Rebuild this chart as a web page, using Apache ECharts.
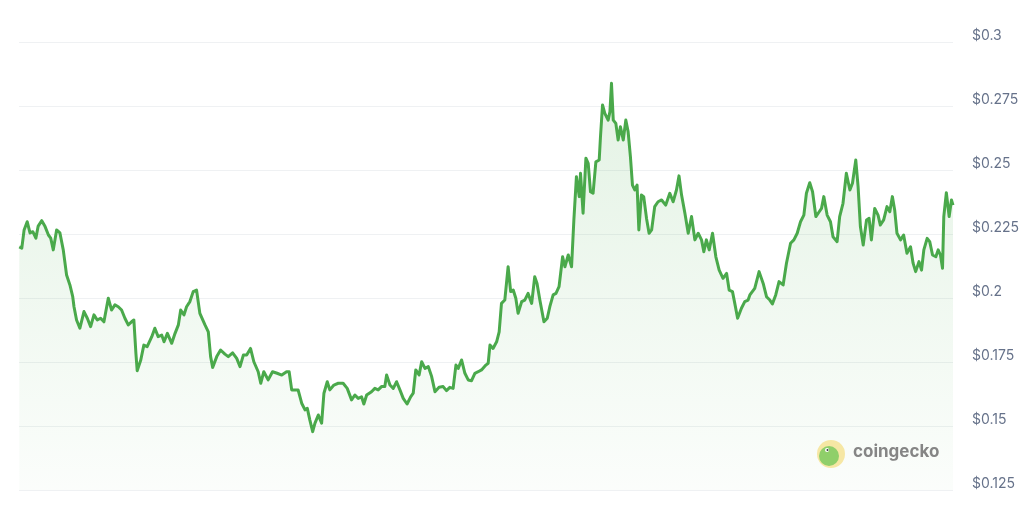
<!DOCTYPE html>
<html>
<head>
<meta charset="utf-8">
<script src="https://cdn.jsdelivr.net/npm/echarts@6/dist/echarts.min.js"></script>
<style>
html,body{margin:0;padding:0;background:#fff;}
#chart{width:1024px;height:517px;}
</style>
</head>
<body>
<div id="chart"></div>
<script>
// Day offsets (time position) and prices
const days = [0.1,1.1,2.0,3.2,4.3,5.4,6.6,7.5,8.9,10.2,11.5,12.4,13.4,14.7,16.0,17.3,18.6,19.9,21.0,21.5,22.5,23.8,24.5,25.4,26.7,28.0,29.3,30.6,31.9,33.2,34.9,36.2,37.5,38.8,40.1,41.4,42.7,44.0,44.9,45.7,46.2,47.6,48.8,50.1,51.9,53.1,54.4,55.8,56.7,58.0,59.7,61.0,62.3,63.2,64.5,65.5,66.8,68.1,69.4,70.7,72.7,74.0,74.9,75.7,77.3,78.8,80.5,81.8,83.5,85.1,86.4,87.7,89.0,90.5,91.8,93.5,94.5,95.7,97.4,99.1,100.9,102.7,104.6,105.6,106.6,107.9,109.1,110.5,111.8,112.7,113.7,114.8,115.7,117.0,118.3,119.2,120.5,121.5,123.1,124.8,126.7,128.3,130.0,131.3,132.6,133.9,134.8,135.9,137.8,139.1,140.4,141.7,143.0,143.7,145.0,146.3,147.6,148.9,150.2,151.7,153.1,154.1,155.1,156.4,157.4,158.7,160.0,161.3,162.6,164.2,165.8,167.1,168.4,169.7,170.8,171.7,173.0,174.3,175.6,176.9,178.2,179.5,180.8,182.5,183.4,184.1,185.3,186.7,187.7,188.6,189.9,191.2,192.2,193.2,194.2,195.1,196.5,197.7,199.0,200.4,201.6,202.5,203.6,205.2,206.5,207.5,208.8,209.9,211.1,212.5,213.4,214.7,216.0,216.9,217.9,219.0,219.5,220.5,221.6,222.5,223.4,224.4,225.5,226.8,227.3,228.1,229.0,230.3,231.0,231.6,232.3,233.3,234.2,235.1,236.2,237.2,238.1,239.0,239.8,240.7,241.6,242.3,243.3,244.2,245.3,246.3,247.3,248.5,249.8,251.2,252.8,254.4,255.7,257.0,258.0,259.0,260.3,261.6,262.9,264.2,265.5,266.8,267.7,268.7,269.8,271.1,272.4,273.7,275.2,276.6,277.6,278.9,279.8,280.9,282.4,283.7,285.0,285.7,287.6,289.3,290.9,292.2,293.5,294.5,295.8,297.1,298.7,300.0,301.6,302.9,304.2,305.5,306.8,307.8,309.1,310.2,311.5,312.8,313.7,314.6,315.9,317.2,318.2,319.8,320.8,322.1,323.4,324.8,325.8,327.1,328.0,328.9,330.0,331.3,332.3,333.2,334.5,335.8,336.7,338.0,339.3,340.4,341.4,342.3,343.2,344.6,345.8,347.1,348.5,349.5,350.5,351.8,352.8,353.7,355.0,356.0,357.1,358.4,359.3,360.2,361.0,361.5,362.5,363.6,364.5,365.1];
const prices = [0.2200,0.2195,0.2266,0.2298,0.2254,0.2259,0.2234,0.2281,0.2302,0.2279,0.2246,0.2234,0.2188,0.2266,0.2254,0.2188,0.2090,0.2051,0.2005,0.1966,0.1914,0.1882,0.1875,0.1947,0.1921,0.1888,0.1934,0.1914,0.1921,0.1907,0.1999,0.1953,0.1973,0.1966,0.1953,0.1921,0.1895,0.1907,0.1914,0.1784,0.1716,0.1758,0.1816,0.1810,0.1849,0.1882,0.1849,0.1855,0.1829,0.1862,0.1823,0.1862,0.1895,0.1953,0.1934,0.1966,0.1986,0.2025,0.2031,0.1940,0.1895,0.1868,0.1771,0.1729,0.1771,0.1797,0.1781,0.1771,0.1786,0.1764,0.1732,0.1777,0.1777,0.1803,0.1751,0.1712,0.1667,0.1712,0.1680,0.1712,0.1706,0.1699,0.1712,0.1712,0.1641,0.1641,0.1641,0.1589,0.1563,0.1569,0.1523,0.1478,0.1511,0.1543,0.1511,0.1628,0.1673,0.1641,0.1660,0.1667,0.1667,0.1647,0.1602,0.1621,0.1608,0.1614,0.1586,0.1621,0.1634,0.1647,0.1641,0.1654,0.1654,0.1699,0.1660,0.1647,0.1673,0.1641,0.1608,0.1586,0.1614,0.1628,0.1719,0.1699,0.1751,0.1725,0.1732,0.1693,0.1634,0.1651,0.1654,0.1638,0.1651,0.1647,0.1738,0.1725,0.1758,0.1706,0.1680,0.1677,0.1706,0.1712,0.1719,0.1738,0.1745,0.1816,0.1803,0.1829,0.1868,0.1979,0.1992,0.2122,0.2025,0.2031,0.1999,0.1940,0.1986,0.1992,0.2018,0.1979,0.2083,0.2057,0.1992,0.1907,0.1921,0.1966,0.2012,0.2018,0.2044,0.2161,0.2122,0.2168,0.2122,0.2305,0.2474,0.2396,0.2487,0.2331,0.2546,0.2526,0.2415,0.2409,0.2532,0.2539,0.2630,0.2754,0.2721,0.2695,0.2728,0.2839,0.2695,0.2682,0.2617,0.2669,0.2617,0.2695,0.2650,0.2552,0.2441,0.2422,0.2441,0.2266,0.2402,0.2396,0.2311,0.2253,0.2266,0.2357,0.2376,0.2383,0.2363,0.2409,0.2376,0.2422,0.2477,0.2402,0.2331,0.2253,0.2318,0.2227,0.2253,0.2227,0.2181,0.2227,0.2188,0.2253,0.2161,0.2109,0.2077,0.2096,0.2031,0.2025,0.1979,0.1921,0.1960,0.1986,0.1992,0.2012,0.2038,0.2103,0.2057,0.2005,0.1992,0.1977,0.2012,0.2064,0.2051,0.2136,0.2214,0.2227,0.2253,0.2298,0.2324,0.2409,0.2450,0.2415,0.2318,0.2337,0.2350,0.2396,0.2324,0.2298,0.2239,0.2220,0.2318,0.2370,0.2487,0.2422,0.2448,0.2539,0.2435,0.2279,0.2207,0.2305,0.2311,0.2227,0.2350,0.2324,0.2285,0.2305,0.2357,0.2337,0.2396,0.2344,0.2253,0.2227,0.2246,0.2175,0.2200,0.2136,0.2103,0.2142,0.2109,0.2188,0.2233,0.2220,0.2168,0.2161,0.2188,0.2168,0.2116,0.2318,0.2411,0.2318,0.2383,0.2363];
const yTicks = [0.125,0.15,0.175,0.2,0.225,0.25,0.275,0.3];
const watermarkText = 'coingecko';

const chart = echarts.init(document.getElementById('chart'), null, {renderer:'canvas'});
const seriesData = days.map((d,i)=>[d, prices[i]]);
chart.setOption({
  animation:false,
  backgroundColor:'#ffffff',
  grid:{left:19, right:71, top:42, bottom:27},
  xAxis:{
    type:'value', min:0, max:days[days.length-1],
    show:false
  },
  yAxis:{
    type:'value', position:'right',
    min:yTicks[0], max:yTicks[yTicks.length-1], interval:0.025,
    axisLine:{show:false}, axisTick:{show:false},
    splitLine:{show:true, lineStyle:{color:'#eff1f3', width:1}},
    axisLabel:{
      margin:19, color:'#66728a', fontSize:14, fontFamily:'Inter, "Noto Sans", sans-serif',
      verticalAlign:'bottom', lineHeight:12,
      formatter:v=>'$'+parseFloat(v.toFixed(3))
    }
  },
  series:[{
    type:'line', data:seriesData, showSymbol:false, symbol:'none',
    lineStyle:{color:'#4aa94b', width:3, join:'round'},
    itemStyle:{color:'#4aa94b'},
    areaStyle:{
      color:new echarts.graphic.LinearGradient(0,0,0,1,[
        {offset:0,color:'rgba(76,175,80,0.22)'},
        {offset:1,color:'rgba(76,175,80,0.03)'}
      ])
    }
  }],
  graphic:[
    {type:'circle', shape:{cx:831, cy:454, r:14}, style:{fill:'#f6e7a4'}, z:100},
    {type:'circle', shape:{cx:829, cy:456, r:10}, style:{fill:'#8fcf6a'}, z:101},
    {type:'circle', shape:{cx:827, cy:450, r:2}, style:{fill:'#ffffff'}, z:102},
    {type:'circle', shape:{cx:827.5, cy:450, r:1}, style:{fill:'#3a3a3a'}, z:103},
    {type:'text', left:853, top:443, z:100,
     style:{text:watermarkText, fill:'#858585', fontSize:17, fontWeight:'bold', fontFamily:'Inter, "Noto Sans", sans-serif'}}
  ]
});
</script>
</body>
</html>
